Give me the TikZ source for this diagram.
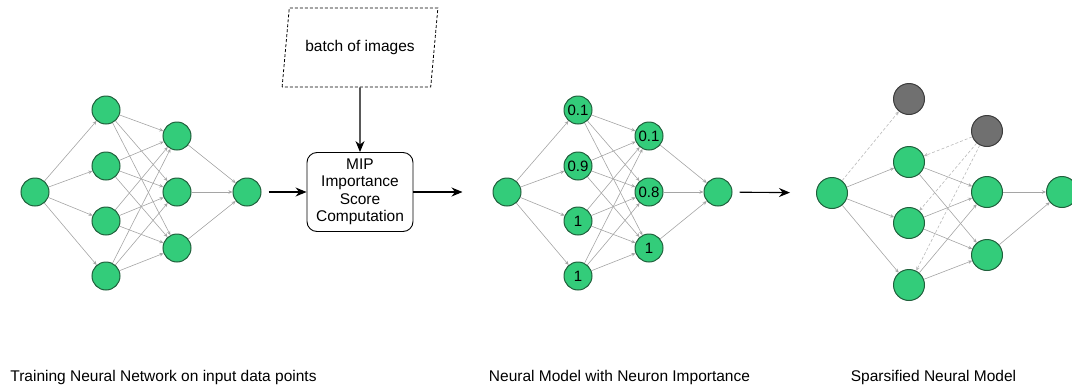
\documentclass[tikz,border=0pt]{standalone}
\usepackage{fontspec}
\setmainfont{Liberation Sans}
\usetikzlibrary{shapes.geometric, arrows.meta}
\definecolor{neurongreen}{RGB}{51,204,122}
\definecolor{neuronedge}{RGB}{32,96,60}
\definecolor{prunedgray}{RGB}{112,112,112}
\definecolor{prunededge}{RGB}{60,60,60}
\definecolor{synapsegray}{RGB}{165,165,165}
\definecolor{cutgray}{RGB}{185,185,185}
\tikzstyle{neuron} = [circle, minimum size=28pt, inner sep=0pt, draw=neuronedge, line width=1pt, fill=neurongreen, font=\fontsize{15}{15}\selectfont]
\tikzstyle{bigneuron} = [neuron, minimum size=31pt]
\tikzstyle{pruned} = [bigneuron, fill=prunedgray, draw=prunededge]
\tikzstyle{synapse} = [draw=synapsegray, line width=0.6pt, -{Stealth[length=4pt,width=3.5pt]}]
\tikzstyle{cut} = [synapse, draw=cutgray, dash pattern=on 3pt off 2pt]
\tikzstyle{flow} = [line width=1.1pt, -{Stealth[length=11pt,width=9pt]}]
\tikzstyle{process} = [rectangle, rounded corners=10pt, minimum width=106pt, minimum height=79pt, inner sep=0pt, draw, line width=0.9pt, align=center, font=\fontsize{15.5}{17.5}\selectfont]
\tikzstyle{data} = [trapezium, trapezium left angle=69, trapezium right angle=111, trapezium stretches=true, minimum width=156pt, minimum height=79pt, inner sep=0pt, draw, line width=0.8pt, dash pattern=on 3pt off 2pt, font=\fontsize{15.5}{17.5}\selectfont]
\tikzstyle{caption} = [font=\fontsize{15.5}{17.5}\selectfont]

\begin{document}
\begin{tikzpicture}[x=1pt, y=-1pt]
\useasboundingbox (0,0) rectangle (1072,386);

% trained network
\node (in1) [neuron] at (35,192) {};
\foreach \y [count=\i] in {110,166,221,276}
  \node (a\i) [neuron] at (106,\y) {};
\foreach \y [count=\j] in {136,192,248}
  \node (b\j) [neuron] at (177,\y) {};
\node (out1) [neuron] at (247,192) {};

% importance step
\node (batch) [data] at (360,47.5) {batch of images};
\node (mip) [process] at (360,192) {MIP\\Importance\\Score\\Computation};

% network with scores
\node (in2) [neuron] at (507,192) {};
\foreach \y/\w [count=\i] in {110/0.1,166/0.9,221/1,276/1}
  \node (c\i) [neuron] at (578,\y) {\w};
\foreach \y/\w [count=\j] in {136/0.1,192/0.8,248/1}
  \node (d\j) [neuron] at (649,\y) {\w};
\node (out2) [neuron] at (718,192) {};

% sparsified network
\node (in3) [bigneuron] at (832,193) {};
\node (e0) [pruned] at (909,99) {};
\foreach \y [count=\i] in {162,223,285}
  \node (e\i) [bigneuron] at (909,\y) {};
\node (f0) [pruned] at (987,131) {};
\foreach \y [count=\j] in {192,255}
  \node (f\j) [bigneuron] at (987,\y) {};
\node (out3) [bigneuron] at (1062,192) {};

\foreach \i in {1,...,4} {
  \draw [synapse] (in1) -- (a\i);
  \draw [synapse] (in2) -- (c\i);
  \foreach \j in {1,2,3} {
    \draw [synapse] (a\i) -- (b\j);
    \draw [synapse] (c\i) -- (d\j);
  }
}
\foreach \j in {1,2,3} {
  \draw [synapse] (b\j) -- (out1);
  \draw [synapse] (d\j) -- (out2);
}

\draw [cut] (in3) -- (e0);
\foreach \i in {1,2,3} {
  \draw [synapse] (in3) -- (e\i);
  \draw [cut] (f0) -- (e\i);
  \foreach \j in {1,2}
    \draw [synapse] (e\i) -- (f\j);
}
\foreach \j in {1,2}
  \draw [synapse] (f\j) -- (out3);

\draw [flow, shorten <=7pt] (out1) -- (mip);
\draw [flow] (batch) -- (mip);
\draw [flow, shorten >=30pt] (mip) -- (in2);
\draw [flow, shorten <=7pt, shorten >=26pt] (out2) -- (in3);

\node (cap1) [caption] at (163.5,377) {Training Neural Network on input data points};
\node (cap2) [caption] at (619.5,377) {Neural Model with Neuron Importance};
\node (cap3) [caption] at (933.5,377) {Sparsified Neural Model};
\end{tikzpicture}
\end{document}
